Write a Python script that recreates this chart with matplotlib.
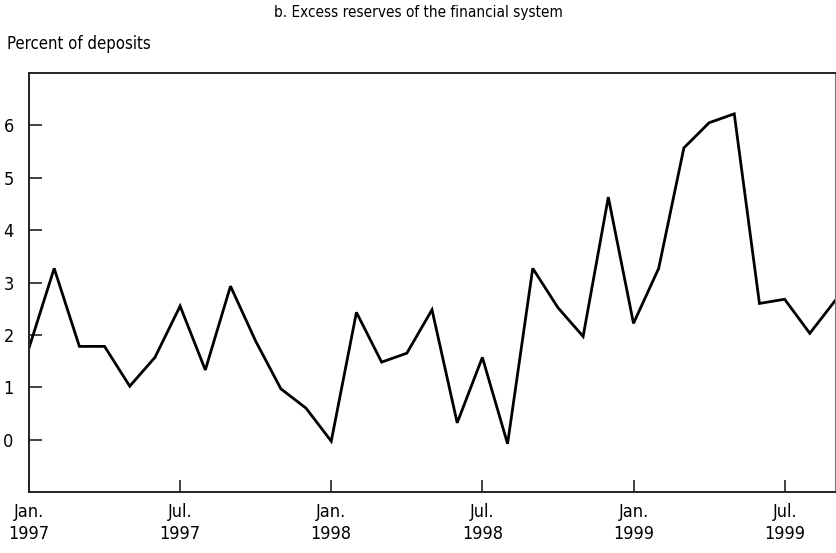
import matplotlib
matplotlib.use("Agg")
import matplotlib.pyplot as plt

# Monthly observations, Jan. 1997 - Sep. 1999
months = list(range(33))
excess_reserves = [
    1.75, 3.27, 1.78, 1.78, 1.02, 1.57, 2.55, 1.33, 2.93, 1.88, 0.97, 0.60,
    -0.03, 2.43, 1.48, 1.65, 2.48, 0.32, 1.57, -0.08, 3.27, 2.52, 1.97, 4.63,
    2.22, 3.27, 5.57, 6.05, 6.22, 2.60, 2.68, 2.03, 2.65,
]
tick_pos = [0, 6, 12, 18, 24, 30]
tick_labels = ["Jan.\n1997", "Jul.\n1997", "Jan.\n1998", "Jul.\n1998", "Jan.\n1999", "Jul.\n1999"]
y_ticks = [0, 1, 2, 3, 4, 5, 6]

plt.rcParams["font.family"] = ["DejaVu Sans"]
plt.rcParams["font.stretch"] = "condensed"

fig = plt.figure(figsize=(8.36, 5.53), dpi=100)
ax = fig.add_axes([29 / 836, 61 / 553, 806 / 836, 419 / 553])

ax.plot(months, excess_reserves, color="black", lw=2.0, solid_joinstyle="miter")

ax.set_xlim(0, 32)
ax.set_ylim(-1, 7)
ax.set_xticks(tick_pos)
ax.set_xticklabels(tick_labels, fontsize=13, linespacing=1.3)
ax.set_yticks(y_ticks)
ax.set_yticklabels([str(v) for v in y_ticks], fontsize=13)
ax.tick_params(axis="both", direction="in", length=9, width=1.2, color="#222222")
ax.tick_params(axis="x", pad=8)
ax.tick_params(axis="y", pad=11)

for side in ["left", "bottom", "top"]:
    ax.spines[side].set_linewidth(1.4)
    ax.spines[side].set_color("#222222")
ax.spines["right"].set_linewidth(0.8)
ax.spines["right"].set_color("#777777")

fig.text(7 / 836, 1 - 49 / 553, "Percent of deposits", fontsize=12, va="baseline")
fig.text(418 / 836, 1 - 17 / 553, "b. Excess reserves of the financial system",
         fontsize=11, ha="center", va="baseline")

fig.savefig("out.png", dpi=100)
